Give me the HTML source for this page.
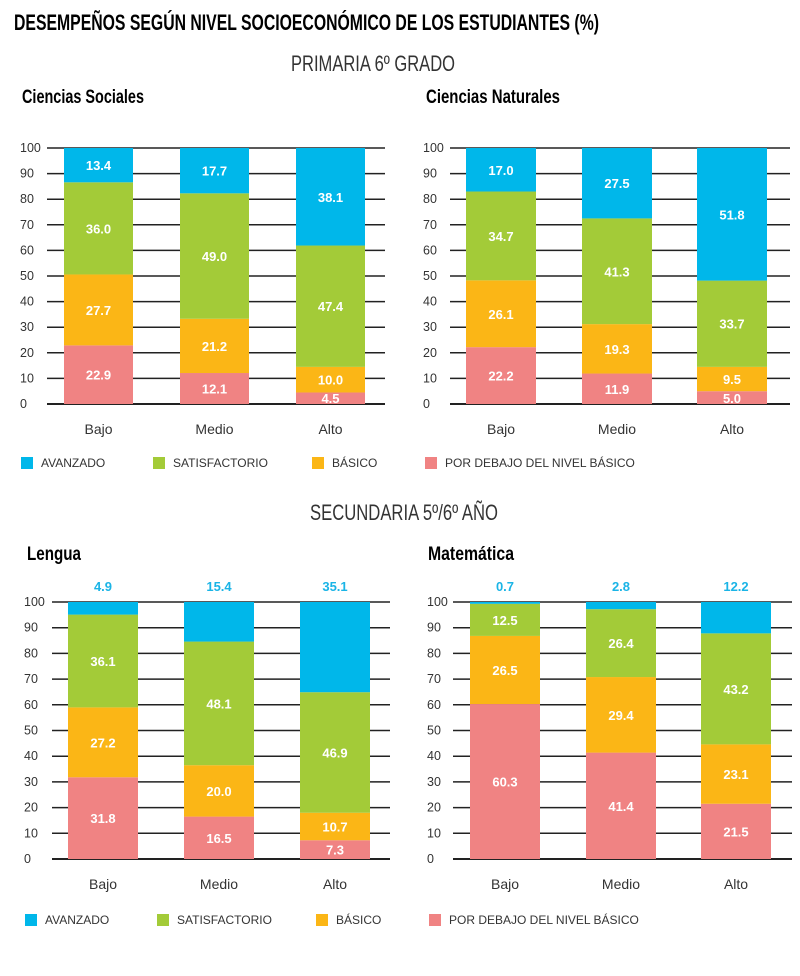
<!DOCTYPE html>
<html><head><meta charset="utf-8"><style>
body{margin:0;background:#fff;}
svg{display:block;font-family:"Liberation Sans",sans-serif;}
</style></head><body>
<svg id="s" width="800" height="976" viewBox="0 0 800 976">
<text x="14" y="30" font-size="22" font-weight="bold" textLength="585" lengthAdjust="spacingAndGlyphs">DESEMPEÑOS SEGÚN NIVEL SOCIOECONÓMICO DE LOS ESTUDIANTES (%)</text>
<text x="373" y="71" font-size="22" text-anchor="middle" textLength="164" lengthAdjust="spacingAndGlyphs" fill="#333">PRIMARIA 6º GRADO</text>
<text x="404" y="520" font-size="22" text-anchor="middle" textLength="188" lengthAdjust="spacingAndGlyphs" fill="#333">SECUNDARIA 5º/6º AÑO</text>
</svg>
<script>
const categories=["Bajo","Medio","Alto"];
const seriesNames=["POR DEBAJO DEL NIVEL BÁSICO","BÁSICO","SATISFACTORIO","AVANZADO"];
const yTicks=[0,10,20,30,40,50,60,70,80,90,100];
const socialesValues=[[22.9,12.1,4.5],[27.7,21.2,10.0],[36.0,49.0,47.4],[13.4,17.7,38.1]];
const naturalesValues=[[22.2,11.9,5.0],[26.1,19.3,9.5],[34.7,41.3,33.7],[17.0,27.5,51.8]];
const lenguaValues=[[31.8,16.5,7.3],[27.2,20.0,10.7],[36.1,48.1,46.9],[4.9,15.4,35.1]];
const matematicaValues=[[60.3,41.4,21.5],[26.5,29.4,23.1],[12.5,26.4,43.2],[0.7,2.8,12.2]];
const colors=["#f08383","#fbb616","#a3cb38","#00b7ea"];
const svg=document.getElementById('s');
const NS="http://www.w3.org/2000/svg";
function mk(tag,attrs,txt){const e=document.createElementNS(NS,tag);for(const k in attrs)e.setAttribute(k,attrs[k]);if(txt!==undefined)e.textContent=txt;svg.appendChild(e);return e;}
function chart(o){
  const y=v=>o.y0-(o.y0-o.y100)*v/100;
  const t=mk('text',{x:o.tx,y:o.ty,'font-size':19,'font-weight':'bold',textLength:o.tl,lengthAdjust:'spacingAndGlyphs'},o.title);
  
  
  yTicks.forEach(v=>{
    const l=mk('line',{x1:o.gx1,x2:o.gx2,y1:y(v),y2:y(v),stroke:'#222','stroke-width':v===0?2:1.5});
    
    
    const tt=mk('text',{x:o.lx,y:y(v)+4,'font-size':12.5,fill:'#333'},String(v));
    
    
  });
  categories.forEach((c,i)=>{
    const bx=o.bx[i];let acc=0;
    o.vals.forEach((ser,s)=>{
      const v=ser[i];const top=y(acc+v),bot=y(acc);
      acc+=v;
      const r=mk('rect',{x:bx,y:top,width:o.bw,height:bot-top,fill:colors[s]});
      
      
      let ly=(top+bot)/2+5,fill='#fff';
      const isTop=o.topLabel&&s===3;
      if(isTop){ly=o.y100-11;fill='#1ab4e6';}
      else if(s===0&&bot-top<14){ly=bot-1;}
      if(!isTop&&bot-top<6)return;
      const lt=mk('text',{x:bx+o.bw/2,y:ly,'font-size':13,'font-weight':'bold','text-anchor':'middle',fill:fill},v.toFixed(1));
      
      
    });
    const ct=mk('text',{x:bx+o.bw/2,y:o.y0+30,'font-size':14,'text-anchor':'middle',fill:'#333'},c);
    
    
  });
}
function legend(yy,xs,key){
  [3,2,1,0].forEach((s,j)=>{
    const r=mk('rect',{x:xs[j],y:yy-6,width:12,height:12,fill:colors[s]});
    
    
    const t=mk('text',{x:xs[j]+20,y:yy+4,'font-size':12,fill:'#333'},seriesNames[s]);
    
    
  });
}
chart({key:'sociales',title:'Ciencias Sociales',tx:22,ty:103,tl:122,vals:socialesValues,y0:404,y100:148,gx1:47,gx2:385,lx:20,bx:[64,180,296],bw:69});
chart({key:'naturales',title:'Ciencias Naturales',tx:426,ty:103,tl:134,vals:naturalesValues,y0:404,y100:148,gx1:450,gx2:790,lx:423,bx:[466,582,697],bw:70});
chart({key:'lengua',title:'Lengua',tx:27,ty:560,tl:54,vals:lenguaValues,y0:859,y100:602,gx1:52,gx2:390,lx:24,bx:[68,184,300],bw:70,topLabel:true});
chart({key:'matematica',title:'Matemática',tx:428,ty:560,tl:86,vals:matematicaValues,y0:859,y100:602,gx1:453,gx2:792,lx:427,bx:[470,586,701],bw:70,topLabel:true});
legend(463,[21,153,312,425],'primaria');
legend(920,[25,157,316,429],'secundaria');
</script>
</body></html>
